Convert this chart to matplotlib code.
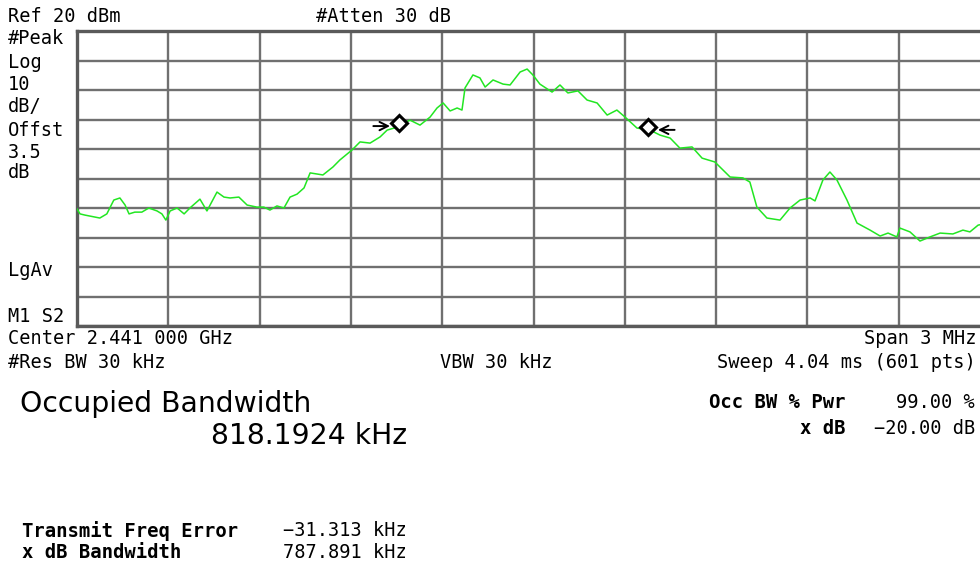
# Occupied bandwidth screen from a spectrum analyser, redrawn with matplotlib

import matplotlib.pyplot as plt
import numpy as np

# trace: offset from centre (kHz) and level (dBm)
freq_khz = [-1500, -1490, -1474, -1425, -1402, -1379, -1359, -1342, -1329, -1310,
            -1287, -1264, -1237, -1221, -1208, -1194, -1171, -1148, -1129, -1096,
            -1073, -1040, -1017, -997, -968, -941, -909, -886, -866, -843,
            -820, -800, -777, -754, -734, -692, -659, -636, -596, -570,
            -537, -504, -481, -445, -406, -373, -340, -317, -297, -274,
            -251, -235, -225, -199, -176, -159, -133, -100, -77, -44,
            -21, -2, 21, 61, 87, 113, 146, 176, 209, 242,
            274, 301, 340, 383, 416, 449, 481, 521, 554, 596,
            646, 688, 711, 734, 767, 810, 843, 876, 909, 925,
            951, 974, 997, 1030, 1063, 1106, 1139, 1165, 1194, 1204,
            1237, 1270, 1303, 1336, 1378, 1411, 1434, 1461, 1500]
level_dbm = [-40.3, -42.0, -42.4, -43.4, -42.0, -37.3, -36.6, -39.0, -42.0, -41.4,
             -41.4, -40.0, -41.0, -42.0, -44.1, -41.0, -40.0, -42.0, -40.0, -37.0,
             -41.0, -34.6, -36.3, -36.6, -36.3, -39.0, -39.7, -39.7, -40.7, -39.3,
             -40.0, -36.3, -35.3, -33.2, -28.1, -28.8, -26.1, -23.7, -20.3, -17.6,
             -18.0, -15.9, -13.6, -12.5, -10.2, -11.9, -9.2, -6.1, -4.4, -7.1,
             -6.1, -6.8, 0.7, 5.1, 4.1, 1.0, 3.4, 2.0, 1.7, 6.1,
             7.1, 5.1, 2.0, -0.7, 1.7, -1.0, -0.3, -3.4, -4.4, -8.5,
             -6.8, -9.2, -12.9, -13.6, -15.3, -16.3, -19.7, -19.3, -23.1, -24.4,
             -29.5, -29.8, -31.2, -39.7, -43.4, -44.1, -40.0, -37.3, -36.6, -37.6,
             -30.5, -27.8, -30.5, -37.3, -45.1, -47.5, -49.5, -48.5, -49.8, -46.8,
             -48.1, -51.2, -49.8, -48.5, -48.8, -47.5, -48.1, -45.8, -45.0]

ref_level = 20      # dBm
db_per_div = 10
span_khz = 3000
occ_bw_khz = 818.1924
freq_error_khz = -31.313

W, H = 980, 562
fig = plt.figure(figsize=(W / 100, H / 100), dpi=100)
fig.patch.set_facecolor('white')

# graticule spans x 77..990 px (right edge is cut off), y 31..326 px
ax = fig.add_axes([77 / W, 1 - 326 / H, 913 / W, 295 / H])
ax.set_xlim(-span_khz / 2, span_khz / 2)
ax.set_ylim(ref_level - 10 * db_per_div, ref_level)
ax.set_xticks(np.arange(-span_khz / 2, span_khz / 2 + 1, span_khz / 10))
ax.set_yticks(np.arange(ref_level - 10 * db_per_div, ref_level + 1, db_per_div))
ax.tick_params(length=0, labelbottom=False, labelleft=False)
ax.grid(True, color='#707070', linewidth=1.7)
for s in ax.spines.values():
    s.set_color('#5a5a5a')
    s.set_linewidth(2.4)

ax.plot(freq_khz, level_dbm, color='#22e622', linewidth=1.1, zorder=3)

# occupied bandwidth edge markers
edges = [freq_error_khz - occ_bw_khz / 2, freq_error_khz + occ_bw_khz / 2]
edge_lvl = np.interp(edges, freq_khz, level_dbm) + 1.0
ax.plot(edges, edge_lvl, linestyle='none', marker='D', markersize=8,
        markerfacecolor='white', markeredgecolor='black', markeredgewidth=2.2, zorder=5)
arrow = dict(arrowstyle='->', color='black', lw=1.4, mutation_scale=15)
ax.annotate('', xy=(edges[0] - 22, edge_lvl[0] - 1), xytext=(edges[0] - 95, edge_lvl[0] - 1),
            arrowprops=arrow, zorder=5)
ax.annotate('', xy=(edges[1] + 22, edge_lvl[1] - 1), xytext=(edges[1] + 95, edge_lvl[1] - 1),
            arrowprops=arrow, zorder=5)

mono = 'DejaVu Sans Mono'


def label(x, y, s, size=13.4, weight='normal', ha='left', family=mono):
    fig.text(x / W, 1 - y / H, s, fontsize=size, fontweight=weight, ha=ha, va='center',
             family=family, color='black')


label(8, 17, 'Ref 20 dBm')
label(316, 17, '#Atten 30 dB')
for y, s in [(38, '#Peak'), (62, 'Log'), (84, '10'), (107, 'dB/'), (130, 'Offst'),
             (152, '3.5'), (172, 'dB'), (270, 'LgAv'), (316, 'M1 S2')]:
    label(8, y, s)
label(8, 339, 'Center 2.441 000 GHz')
label(976, 339, 'Span 3 MHz', ha='right')
label(8, 362, '#Res BW 30 kHz')
label(440, 362, 'VBW 30 kHz')
label(976, 362, 'Sweep 4.04 ms (601 pts)', ha='right')

label(20, 404, 'Occupied Bandwidth', size=20.3, family='DejaVu Sans')
label(407, 436, f'{occ_bw_khz:.4f} kHz', size=20.3, ha='right', family='DejaVu Sans')

label(845, 403, 'Occ BW % Pwr', size=13.6, weight='bold', ha='right')
label(975, 403, '99.00 %', ha='right')
label(845, 428, 'x dB', size=13.6, weight='bold', ha='right')
label(975, 428, '\u221220.00 dB', ha='right')

label(22, 531, 'Transmit Freq Error', size=13.6, weight='bold')
label(22, 552, 'x dB Bandwidth', size=13.6, weight='bold')
label(407, 531, f'\u2212{abs(freq_error_khz):.3f} kHz', ha='right')
label(407, 552, '787.891 kHz', ha='right')

fig.savefig('out.png', dpi=100)
